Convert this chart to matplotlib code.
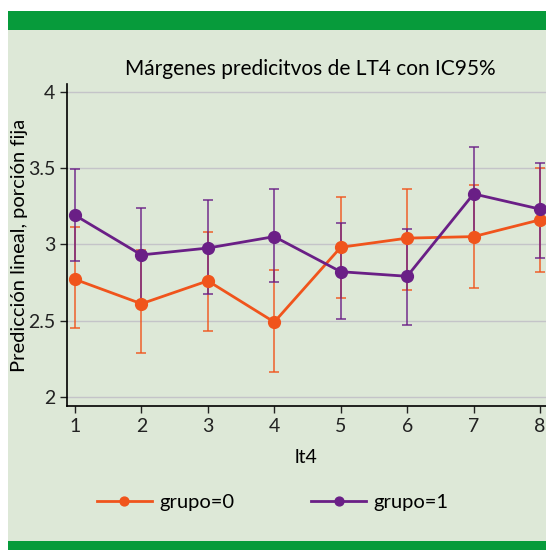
import numpy as np
import matplotlib.pyplot as plt
from matplotlib.patches import Rectangle

# data
lt4 = [1, 2, 3, 4, 5, 6, 7, 8]
g0_mean = [2.77, 2.61, 2.76, 2.49, 2.98, 3.04, 3.05, 3.16]
g0_lo = [2.45, 2.29, 2.43, 2.16, 2.65, 2.70, 2.71, 2.82]
g0_hi = [3.11, 2.96, 3.08, 2.83, 3.31, 3.36, 3.39, 3.50]
g1_mean = [3.19, 2.93, 2.975, 3.05, 2.82, 2.79, 3.33, 3.23]
g1_lo = [2.89, 2.62, 2.675, 2.75, 2.51, 2.47, 3.02, 2.91]
g1_hi = [3.49, 3.24, 3.29, 3.36, 3.14, 3.10, 3.64, 3.53]
yticks = [2, 2.5, 3, 3.5, 4]
ytick_labels = ["2", "2.5", "3", "3.5", "4"]

BG = "#dde8d7"
GREEN = "#079b3b"
ORANGE = "#f0541c"
PURPLE = "#6a1f86"

plt.rcParams['font.family'] = ['Lato', 'DejaVu Sans']

fig = plt.figure(figsize=(5.46, 5.5), dpi=100)
fig.patch.set_facecolor("white")

# background panel and green bars
fig.add_artist(Rectangle((8 / 546, 0), 1, 1 - 11 / 550, transform=fig.transFigure,
                         facecolor=BG, edgecolor="none", zorder=-10))
fig.add_artist(Rectangle((8 / 546, 1 - 30 / 550), 1, 19 / 550, transform=fig.transFigure,
                         facecolor=GREEN, edgecolor="none", zorder=-9))
fig.add_artist(Rectangle((8 / 546, 0), 1, 9 / 550, transform=fig.transFigure,
                         facecolor=GREEN, edgecolor="none", zorder=-9))

ax = fig.add_axes([67 / 546, (550 - 406) / 550, 1 - 67 / 546, (406 - 84) / 550])
ax.set_facecolor(BG)

x = np.array(lt4)
for mean, lo, hi, col in [(g0_mean, g0_lo, g0_hi, ORANGE), (g1_mean, g1_lo, g1_hi, PURPLE)]:
    m = np.array(mean)
    ax.errorbar(x, m, yerr=[m - np.array(lo), np.array(hi) - m], fmt="none",
                ecolor=col, elinewidth=1.2, capsize=3.5, capthick=1.2, alpha=0.85, zorder=3)

ax.plot(x, g0_mean, "-o", color=ORANGE, lw=2, ms=8.5, label="grupo=0", zorder=4)
ax.plot(x, g1_mean, "-o", color=PURPLE, lw=2, ms=8.5, label="grupo=1", zorder=5)

ax.set_xlim(0.88, 8.09)
ax.set_ylim(1.94, 4.05)
ax.set_yticks(yticks)
ax.set_yticklabels(ytick_labels)
ax.set_xticks(lt4)
ax.yaxis.grid(True, color="#c4c4c8", lw=1)
ax.set_axisbelow(True)
for s in ["top", "right"]:
    ax.spines[s].set_visible(False)
ax.spines["left"].set_linewidth(1.2)
ax.spines["bottom"].set_linewidth(1.2)
ax.tick_params(labelsize=14, length=5, width=1, colors="#222222")

ax.set_xlabel("lt4", fontsize=14, labelpad=10)
ax.set_ylabel("Predicción lineal, porción fija", fontsize=14.5, labelpad=0)
fig.text(310 / 546, 1 - 69 / 550, "Márgenes predicitvos de LT4 con IC95%",
         ha="center", va="center", fontsize=15)

fig.legend(loc="center", bbox_to_anchor=(273 / 546, 1 - 502 / 550), ncol=2,
           frameon=False, fontsize=14.5, handlelength=2.7, handletextpad=0.4,
           columnspacing=3.8, markerscale=0.75)

fig.savefig("out.png", dpi=100, facecolor=fig.get_facecolor())
